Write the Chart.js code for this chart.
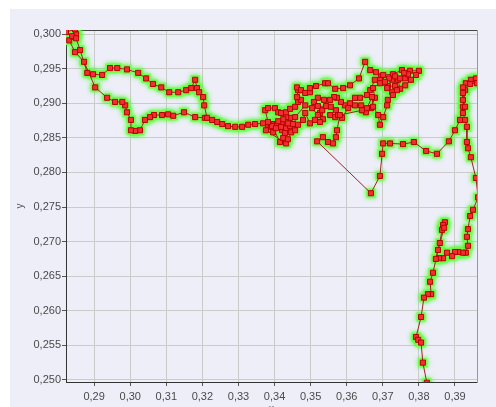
<!DOCTYPE html>
<html>
<head>
<meta charset="utf-8">
<script src="https://cdn.jsdelivr.net/npm/chart.js@4.4.0/dist/chart.umd.min.js"></script>
<style>
  html, body { margin: 0; padding: 0; background: #fff; overflow: hidden; }
  #panel { position: absolute; left: 10px; top: 9px; width: 486px; height: 398px; background: #eeeef9; overflow: hidden; }
  #chart { display: block; }
</style>
</head>
<body>
<div id="panel"><canvas id="chart" width="486" height="410"></canvas></div>
<script>
// trajectory, in plotting order
const xValues = [
  0.3207, 0.3180, 0.3149, 0.3119, 0.3105, 0.3088, 0.3066, 0.3055, 0.3041, 0.3027,
  0.3014, 0.3002, 0.3002, 0.2991, 0.2986, 0.2978, 0.2958, 0.2936, 0.2903, 0.2872,
  0.2847, 0.2831, 0.2847, 0.2850, 0.2847, 0.2822, 0.2839, 0.2850, 0.2861, 0.2881,
  0.2897, 0.2922, 0.2944, 0.2964, 0.2991, 0.3022, 0.3044, 0.3063, 0.3086, 0.3108,
  0.3133, 0.3155, 0.3169, 0.3180, 0.3185, 0.3191, 0.3202, 0.3205, 0.3213, 0.3227,
  0.3241, 0.3255, 0.3271, 0.3291, 0.3310, 0.3327, 0.3346, 0.3368,
  0.3382, 0.3390, 0.3399, 0.3413, 0.3421, 0.3432, 0.3443, 0.3451, 0.3443, 0.3432,
  0.3421, 0.3407, 0.3393, 0.3415, 0.3432,
  0.3376, 0.3396,
  0.3404, 0.3418, 0.3429, 0.3424, 0.3437, 0.3446, 0.3437, 0.3424, 0.3410, 0.3382,
  0.3374, 0.3382, 0.3401, 0.3410, 0.3418, 0.3432, 0.3443, 0.3457, 0.3465, 0.3473,
  0.3462, 0.3465, 0.3462, 0.3473, 0.3485, 0.3498, 0.3498, 0.3515, 0.3540, 0.3548,
  0.3568, 0.3590, 0.3609, 0.3634, 0.3651, 0.3665, 0.3681, 0.3695, 0.3701, 0.3728,
  0.3753, 0.3775, 0.3800, 0.3792, 0.3778, 0.3762, 0.3748,
  0.3742, 0.3726, 0.3717, 0.3734, 0.3748, 0.3762, 0.3770, 0.3759,
  0.3734, 0.3714, 0.3706,
  0.3692, 0.3678, 0.3665, 0.3656, 0.3637, 0.3623, 0.3609, 0.3595, 0.3584, 0.3573,
  0.3565, 0.3554, 0.3526, 0.3534, 0.3526, 0.3512, 0.3498, 0.3485, 0.3479, 0.3465,
  0.3457, 0.3457, 0.3485, 0.3504, 0.3520,
  0.3532, 0.3543, 0.3537, 0.3520, 0.3509, 0.3520,
  0.3556, 0.3570, 0.3554, 0.3568, 0.3576,
  0.3587, 0.3604, 0.3623, 0.3640, 0.3645, 0.3653, 0.3667, 0.3678, 0.3673, 0.3692,
  0.3712, 0.3726, 0.3739, 0.3728, 0.3714, 0.3712, 0.3701, 0.3692, 0.3687, 0.3673,
  0.3670, 0.3656, 0.3642, 0.3581, 0.3573, 0.3570, 0.3562, 0.3548, 0.3534, 0.3518,
  0.3667, 0.3692, 0.3698, 0.3701, 0.3720, 0.3756, 0.3786, 0.3820, 0.3850, 0.3883,
  0.3900, 0.3914, 0.3922, 0.3928, 0.3930, 0.3944, 0.3958, 0.3961, 0.3942, 0.3922,
  0.3922, 0.3922, 0.3928, 0.3922, 0.3928, 0.3933, 0.3933, 0.3936, 0.3944, 0.3958,
  0.3964, 0.3950, 0.3942, 0.3936, 0.3933, 0.3936, 0.3930, 0.3922, 0.3909, 0.3900,
  0.3892, 0.3878, 0.3867, 0.3856, 0.3847, 0.3858, 0.3864, 0.3872, 0.3867, 0.3870,
  0.3853, 0.3839, 0.3831, 0.3834, 0.3825, 0.3814, 0.3806, 0.3792, 0.3798, 0.3806,
  0.3811, 0.3822
];
const yValues = [
  0.2879, 0.2880, 0.2887, 0.2882, 0.2884, 0.2883, 0.2883, 0.2880, 0.2876, 0.2861,
  0.2860, 0.2861, 0.2876, 0.2887, 0.2897, 0.2902, 0.2902, 0.2908, 0.2923, 0.2960,
  0.2974, 0.2991, 0.2996, 0.3000, 0.3007, 0.3003, 0.2997, 0.2994, 0.2977, 0.2944,
  0.2942, 0.2941, 0.2951, 0.2951, 0.2949, 0.2944, 0.2936, 0.2928, 0.2923, 0.2916,
  0.2916, 0.2919, 0.2922, 0.2934, 0.2922, 0.2916, 0.2909, 0.2897, 0.2879, 0.2876,
  0.2873, 0.2870, 0.2867, 0.2866, 0.2866, 0.2869, 0.2870, 0.2871,
  0.2869, 0.2866, 0.2870, 0.2869, 0.2861, 0.2864, 0.2867, 0.2870, 0.2879, 0.2880,
  0.2873, 0.2870, 0.2867, 0.2844, 0.2842,
  0.2861, 0.2858,
  0.2864, 0.2866, 0.2857, 0.2850, 0.2848, 0.2858, 0.2871, 0.2877, 0.2874, 0.2873,
  0.2890, 0.2893, 0.2893, 0.2887, 0.2886, 0.2887, 0.2892, 0.2895, 0.2902, 0.2905,
  0.2909, 0.2919, 0.2923, 0.2919, 0.2915, 0.2916, 0.2922, 0.2925, 0.2929, 0.2929,
  0.2921, 0.2922, 0.2926, 0.2936, 0.2960, 0.2948, 0.2945, 0.2939, 0.2941, 0.2942,
  0.2948, 0.2947, 0.2947, 0.2941, 0.2934, 0.2926, 0.2921,
  0.2934, 0.2934, 0.2936, 0.2939, 0.2936, 0.2936, 0.2942, 0.2944,
  0.2925, 0.2925, 0.2931,
  0.2934, 0.2934, 0.2919, 0.2912, 0.2908, 0.2908, 0.2900, 0.2897, 0.2902, 0.2908,
  0.2909, 0.2905, 0.2886, 0.2877, 0.2873, 0.2876, 0.2871, 0.2886, 0.2876, 0.2869,
  0.2861, 0.2880, 0.2897, 0.2893, 0.2883,
  0.2890, 0.2896, 0.2905, 0.2908, 0.2902, 0.2896,
  0.2895, 0.2890, 0.2883, 0.2880, 0.2883,
  0.2879, 0.2893, 0.2897, 0.2897, 0.2890, 0.2887, 0.2893, 0.2908, 0.2922, 0.2929,
  0.2922, 0.2916, 0.2919, 0.2912, 0.2905, 0.2897, 0.2880, 0.2869, 0.2883, 0.2895,
  0.2909, 0.2893, 0.2890, 0.2883, 0.2861, 0.2851, 0.2842, 0.2844, 0.2851, 0.2845,
  0.2770, 0.2795, 0.2827, 0.2842, 0.2842, 0.2841, 0.2844, 0.2831, 0.2827, 0.2845,
  0.2861, 0.2876, 0.2895, 0.2919, 0.2929, 0.2934, 0.2936, 0.2929, 0.2928, 0.2923,
  0.2915, 0.2905, 0.2895, 0.2886, 0.2876, 0.2866, 0.2844, 0.2835, 0.2822, 0.2792,
  0.2764, 0.2746, 0.2737, 0.2718, 0.2707, 0.2694, 0.2684, 0.2684, 0.2685, 0.2685,
  0.2679, 0.2684, 0.2676, 0.2676, 0.2675, 0.2698, 0.2717, 0.2728, 0.2724, 0.2720,
  0.2688, 0.2655, 0.2642, 0.2624, 0.2624, 0.2619, 0.2591, 0.2562, 0.2558, 0.2554,
  0.2525, 0.2496
];
const xTicks = [0.29, 0.30, 0.31, 0.32, 0.33, 0.34, 0.35, 0.36, 0.37, 0.38, 0.39];
const yTicks = [0.250, 0.255, 0.260, 0.265, 0.270, 0.275, 0.280, 0.285, 0.290, 0.295, 0.300];

const points = xValues.map((x, i) => ({x: x, y: yValues[i]}));
const comma = (v, d) => v.toFixed(d).replace('.', ',');

// soft green halo behind the markers
const glowPlugin = {
  id: 'glow',
  beforeDatasetDraw(chart, args) {
    if (args.index === 1) {
      chart.ctx.save();
      chart.ctx.shadowColor = 'rgb(60,250,30)';
      chart.ctx.shadowBlur = 5;
    }
  },
  afterDatasetDraw(chart, args) {
    if (args.index === 1) chart.ctx.restore();
  }
};

new Chart(document.getElementById('chart'), {
  type: 'scatter',
  data: {
    datasets: [{
      data: points,
      showLine: true,
      borderColor: '#a42020',
      borderWidth: 1,
      pointStyle: 'rect',
      pointRadius: 3.6,
      pointBackgroundColor: '#f03030',
      pointBorderColor: '#b80000',
      pointBorderWidth: 1,
      order: 1
    }, {
      data: points,
      showLine: false,
      pointStyle: 'rect',
      pointRadius: 6.5,
      pointBackgroundColor: 'rgb(115,255,80)',
      pointBorderWidth: 0,
      order: 2
    }]
  },
  options: {
    responsive: false,
    animation: false,
    layout: {padding: {left: 0, top: 21, right: 19, bottom: 0}},
    plugins: {legend: {display: false}, tooltip: {enabled: false}},
    scales: {
      x: {
        type: 'linear',
        min: 0.2822,
        max: 0.3961,
        afterBuildTicks: s => { s.ticks = xTicks.map(v => ({value: v})); },
        afterFit: s => { s.height = 37; },
        ticks: {
          callback: v => comma(v, 2),
          color: '#4a4a4a',
          font: {family: 'Liberation Sans', size: 11},
          padding: 4
        },
        grid: {color: '#cbcbcb', lineWidth: 1, tickLength: 4, tickColor: '#555'},
        border: {color: '#333', width: 1},
        title: {display: true, text: 'x', color: '#555', font: {family: 'Liberation Sans', size: 10}, padding: {top: 12}}
      },
      y: {
        type: 'linear',
        min: 0.2497,
        max: 0.3006,
        afterBuildTicks: s => { s.ticks = yTicks.map(v => ({value: v})); },
        afterFit: s => { s.width = 56; },
        ticks: {
          callback: v => comma(v, 3),
          color: '#4a4a4a',
          font: {family: 'Liberation Sans', size: 11},
          padding: 1
        },
        grid: {color: '#cbcbcb', lineWidth: 1, tickLength: 4, tickColor: '#555'},
        border: {color: '#333', width: 1},
        title: {display: true, text: 'y', color: '#555', font: {family: 'Liberation Sans', size: 10}, padding: {top: 4, bottom: 0}}
      },
      x2: {
        type: 'linear',
        position: 'top',
        min: 0.2822,
        max: 0.3961,
        afterBuildTicks: s => { s.ticks = xTicks.map(v => ({value: v})); },
        afterFit: s => { s.height = 0; },
        ticks: {display: false},
        grid: {drawOnChartArea: false, drawTicks: false},
        border: {color: '#444', width: 1}
      },
      y2: {
        type: 'linear',
        position: 'right',
        min: 0.2497,
        max: 0.3006,
        afterBuildTicks: s => { s.ticks = yTicks.map(v => ({value: v})); },
        afterFit: s => { s.width = 0; },
        ticks: {display: false},
        grid: {drawOnChartArea: false, drawTicks: false},
        border: {color: '#999', width: 1}
      }
    }
  },
  plugins: [glowPlugin]
});
</script>
</body>
</html>
